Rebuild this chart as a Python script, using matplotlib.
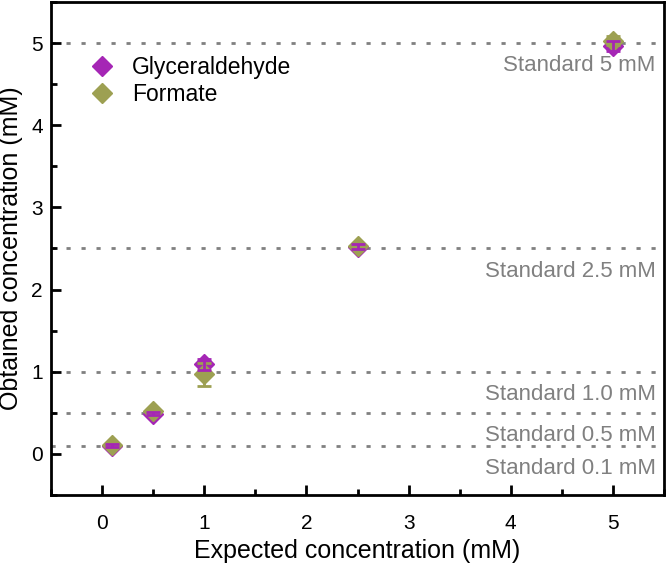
import numpy as np
import matplotlib
matplotlib.use('Agg')
import matplotlib.pyplot as plt
from matplotlib.ticker import MultipleLocator

plt.rcParams['font.family'] = ['Liberation Sans', 'DejaVu Sans']

# data
expected = [0.1, 0.5, 1.0, 2.5, 5.0]
glyc_obtained = [0.10, 0.49, 1.09, 2.52, 4.96]
glyc_err = [0.02, 0.02, 0.07, 0.03, 0.06]
form_obtained = [0.11, 0.52, 0.97, 2.53, 5.03]
form_err = [0.02, 0.03, 0.14, 0.03, 0.05]

standards = [0.1, 0.5, 1.0, 2.5, 5.0]
standard_labels = ['Standard 0.1 mM', 'Standard 0.5 mM', 'Standard 1.0 mM',
                   'Standard 2.5 mM', 'Standard 5 mM']

purple = '#a526b5'
olive = '#9da052'
grey = '#808080'

fig = plt.figure(figsize=(6.66, 5.67), dpi=100)
ax = fig.add_axes([0.0766, 0.127, 0.9204, 0.8695])

for s, lab in zip(standards, standard_labels):
    ax.axhline(s, color=grey, lw=2, ls=(0, (1.5, 3.9)), zorder=1)
    ax.text(5.42, s - 0.15, lab, color=grey, fontsize=16, ha='right', va='top')

ax.plot(expected, glyc_obtained, 'D', color=purple, ms=10.5, label='Glyceraldehyde', zorder=3)
ax.plot(expected, form_obtained, 'D', color=olive, ms=10.5, label='Formate', zorder=4)
ax.errorbar(expected, form_obtained, yerr=form_err, fmt='none', ecolor=olive,
            elinewidth=2, capsize=5, capthick=2, zorder=5)
ax.errorbar(expected, glyc_obtained, yerr=glyc_err, fmt='none', ecolor=purple,
            elinewidth=2, capsize=5, capthick=2, zorder=6)

ax.set_xlim(-0.5, 5.5)
ax.set_ylim(-0.5, 5.5)
ax.xaxis.set_major_locator(MultipleLocator(1))
ax.xaxis.set_minor_locator(MultipleLocator(0.5))
ax.yaxis.set_major_locator(MultipleLocator(1))
ax.yaxis.set_minor_locator(MultipleLocator(0.5))
ax.tick_params(which='major', direction='in', length=7, width=2, labelsize=15)
ax.tick_params(axis='x', which='major', pad=14)
ax.tick_params(axis='y', which='major', pad=6)
ax.tick_params(which='minor', direction='in', length=4, width=2)
ax.tick_params(top=False, right=False, which='both')
for sp in ax.spines.values():
    sp.set_linewidth(2)

ax.set_xlabel('Expected concentration (mM)', fontsize=18, labelpad=4)
ax.set_ylabel('Obtained concentration (mM)', fontsize=18, labelpad=6)

ax.legend(loc='upper left', bbox_to_anchor=(0.027, 0.932), frameon=False, fontsize=16.5,
          handletextpad=0.7, labelspacing=0.15, handlelength=1.2)

fig.savefig('out.png', dpi=100)
